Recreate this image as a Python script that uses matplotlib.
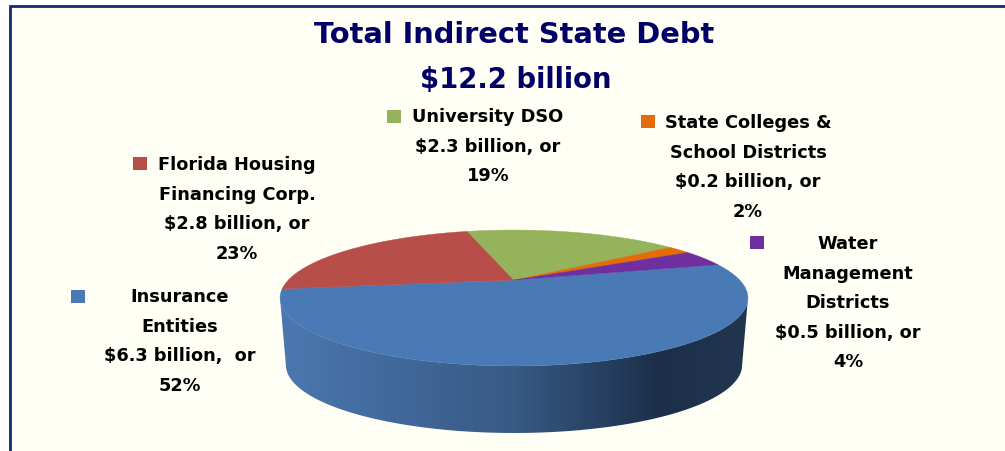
import numpy as np
import matplotlib
matplotlib.use("Agg")
import matplotlib.pyplot as plt
from matplotlib.patches import Polygon, Rectangle

# data
names = ["Insurance Entities", "Florida Housing Financing Corp.", "University DSO",
         "State Colleges & School Districts", "Water Management Districts"]
shares = [52, 23, 19, 2, 4]
colors = ["#4a7ab5", "#b84e4a", "#94b35a", "#e36c09", "#6f2f9f"]
label_lines = [
    ["Insurance", "Entities", "$6.3 billion,  or", "52%"],
    ["Florida Housing", "Financing Corp.", "$2.8 billion, or", "23%"],
    ["University DSO", "$2.3 billion, or", "19%"],
    ["State Colleges &", "School Districts", "$0.2 billion, or", "2%"],
    ["Water", "Management", "Districts", "$0.5 billion, or", "4%"],
]
title_lines = ["Total Indirect State Debt", "$12.2 billion"]

BG = "#fffff6"
FRAME = "#0f2a70"
NAVY = "#000066"

# label layout, pixels from top left
label_x = [180, 237, 488, 748, 848]
label_y = [297, 165, 117, 123, 244]
line_gap = 29.6
swatch_x = [71, 133, 387, 641, 750]
swatch_y = [290, 157, 110, 115, 236]

# pie geometry
apex_x, apex_y = 514, 280
a, b, k = 225.6, 63.2, 0.265
depth = 67
start = 15


def project(theta):
    # flat circle to screen, with perspective so the apex sits above the ellipse centre
    u = np.cos(np.radians(theta))
    v = np.sin(np.radians(theta))
    w = 1 + k * v
    return apex_x + a * u / w, apex_y - b * v / w


fig = plt.figure(figsize=(10.05, 4.51), dpi=100, facecolor="white")
ax = fig.add_axes([0, 0, 1, 1])
ax.axis("off")

ax.add_patch(Rectangle((10, 6), 1000, 460, fc=BG, ec=FRAME, lw=2, zorder=0))

# side of the pie, between the widest points of the ellipse
widest = np.degrees(np.arcsin(k))
t = np.linspace(180 + widest, 360 - widest, 200)
x1, y1 = project(t)
x2 = 514 + (x1 - 514) * 0.975
y2 = y1 + depth
side = Polygon(np.r_[np.c_[x1, y1], np.c_[x2, y2][::-1]], closed=True, fc="none", ec="none")
ax.add_patch(side)
grad_x = np.linspace(280, 748, 400)
grad = np.c_[np.interp(grad_x, [280, 400, 514, 660, 748], [0x4c, 0x40, 0x38, 0x1c, 0x22]),
             np.interp(grad_x, [280, 400, 514, 660, 748], [0x78, 0x68, 0x5a, 0x2f, 0x36]),
             np.interp(grad_x, [280, 400, 514, 660, 748], [0xb0, 0x9a, 0x85, 0x4a, 0x50])] / 255
im = ax.imshow(grad[np.newaxis, :, :], extent=(280, 748, 440, 280), aspect="auto", zorder=1)
im.set_clip_path(side)

# top of the pie, clockwise from the right
angle = start
for share, color in zip(shares, colors):
    sweep = share / sum(shares) * 360
    t = np.linspace(angle, angle - sweep, 120)
    x, y = project(t)
    ax.fill(np.r_[apex_x, x], np.r_[apex_y, y], color=color, lw=0.3, zorder=2)
    angle -= sweep

# labels
for i, lines in enumerate(label_lines):
    for j, line in enumerate(lines):
        ax.text(label_x[i], label_y[i] + j * line_gap, line, ha="center", va="center",
                fontsize=12.8, fontweight="bold", color="black", zorder=3)
    ax.add_patch(Rectangle((swatch_x[i], swatch_y[i]), 14, 13, fc=colors[i], ec="none", zorder=3))

ax.text(514, 35, title_lines[0], ha="center", va="center", fontsize=20.8,
        fontweight="bold", color=NAVY)
ax.text(516, 80, title_lines[1], ha="center", va="center", fontsize=19.8,
        fontweight="bold", color=NAVY)

ax.set_xlim(0, 1005)
ax.set_ylim(451, 0)
fig.savefig("out.png", dpi=100)
